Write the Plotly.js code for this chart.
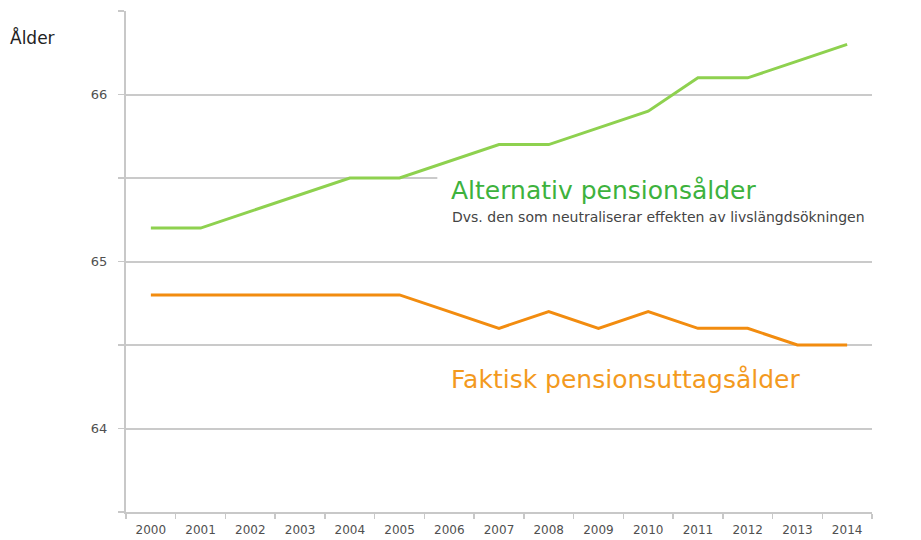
<!DOCTYPE html>
<html><head><meta charset="utf-8">
<script src="https://cdn.plot.ly/plotly-3.0.1.min.js"></script>
<style>html,body{margin:0;padding:0;background:#fff}#chart{width:921px;height:540px}</style>
</head><body><div id="chart"></div>
<script>
const years = ['2000','2001','2002','2003','2004','2005','2006','2007','2008','2009','2010','2011','2012','2013','2014'];
const alternativ = [65.2,65.2,65.3,65.4,65.5,65.5,65.6,65.7,65.7,65.8,65.9,66.1,66.1,66.2,66.3];
const faktisk = [64.8,64.8,64.8,64.8,64.8,64.8,64.7,64.6,64.7,64.6,64.7,64.6,64.6,64.5,64.5];
const yTickVals = [63.5,64,64.5,65,65.5,66,66.5];
const yTickText = ['','64','','65','','66',''];

const L = 126, R = 49, T = 11, B = 28, W = 921, H = 540;
const pw = W - L - R, ph = H - T - B;
const px = v => (v - L) / pw;
const py = v => (H - B - v) / ph;

const traces = [
  {x: years, y: alternativ, type: 'scatter', mode: 'lines', line: {color: '#8ed14f', width: 3}, hoverinfo: 'skip'},
  {x: years, y: faktisk, type: 'scatter', mode: 'lines', line: {color: '#f28c0f', width: 3}, hoverinfo: 'skip'}
];

const layout = {
  width: W, height: H,
  margin: {l: L, r: R, t: T, b: B, pad: 0},
  paper_bgcolor: '#fff', plot_bgcolor: '#fff',
  showlegend: false,
  font: {family: 'DejaVu Sans, Verdana, sans-serif', color: '#555'},
  xaxis: {
    type: 'category', range: [-0.5, 14.5],
    showgrid: false, zeroline: false,
    showline: true, linecolor: '#c8c8c8', linewidth: 2,
    ticks: 'outside', ticklen: 5, tickcolor: '#c8c8c8', tickwidth: 1.5,
    tickson: 'boundaries',
    tickfont: {size: 12, color: '#505050'}, ticklabelstandoff: 6
  },
  yaxis: {
    range: [63.5, 66.5], tickmode: 'array', tickvals: yTickVals, ticktext: yTickText,
    showgrid: true, gridcolor: '#cacaca', gridwidth: 2, zeroline: false,
    showline: true, linecolor: '#c8c8c8', linewidth: 2,
    ticks: 'outside', ticklen: 6, tickcolor: '#c8c8c8', tickwidth: 1.5,
    tickfont: {size: 13, color: '#505050'}, ticklabelstandoff: 8
  },
  shapes: [
    {type: 'rect', xref: 'x', yref: 'y', x0: 5.76, x1: 14.6, y0: 65.465, y1: 65.535,
     fillcolor: '#fff', line: {width: 0}, layer: 'above'}
  ],
  annotations: [
    {xref: 'paper', yref: 'paper', x: px(8), y: py(38), xanchor: 'left', yanchor: 'middle',
     text: 'Ålder', showarrow: false, font: {size: 17, color: '#222'}},
    {xref: 'paper', yref: 'paper', x: px(449), y: py(191), xanchor: 'left', yanchor: 'middle',
     text: 'Alternativ pensionsålder', showarrow: false, font: {size: 25, color: '#3db23d'}},
    {xref: 'paper', yref: 'paper', x: px(450), y: py(217), xanchor: 'left', yanchor: 'middle',
     text: 'Dvs. den som neutraliserar effekten av livslängdsökningen', showarrow: false, font: {size: 14, color: '#444'}},
    {xref: 'paper', yref: 'paper', x: px(449), y: py(379), xanchor: 'left', yanchor: 'middle',
     text: 'Faktisk pensionsuttagsålder', showarrow: false, font: {size: 25, color: '#f39a1e'}}
  ]
};

Plotly.newPlot('chart', traces, layout, {staticPlot: true, displayModeBar: false});
</script></body></html>
